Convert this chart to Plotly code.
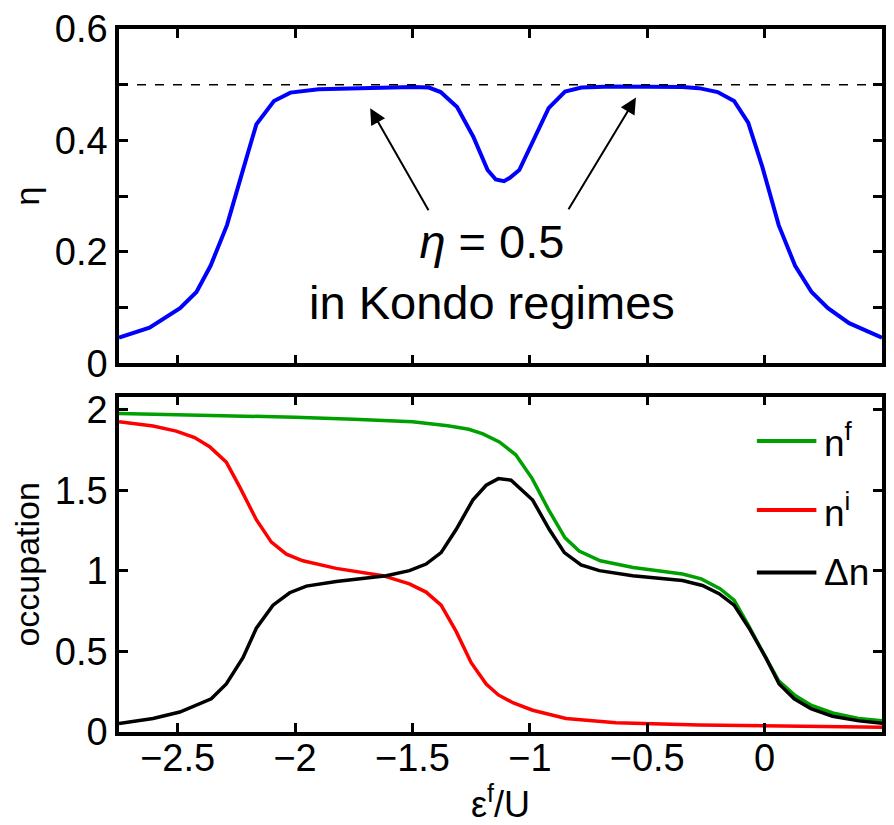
import plotly.graph_objects as go

# ---------------- data ----------------
eps_eta = [-2.75, -2.62, -2.49, -2.42, -2.36, -2.29, -2.22, -2.165, -2.09, -2.02,
           -1.90, -1.75, -1.60, -1.50, -1.43, -1.38, -1.31, -1.24, -1.18, -1.145,
           -1.11, -1.085, -1.045, -0.99, -0.92, -0.85, -0.78, -0.65, -0.50, -0.35,
           -0.28, -0.20, -0.13, -0.07, -0.01, 0.06, 0.13, 0.20, 0.27, 0.36, 0.50]
eta = [0.046, 0.064, 0.099, 0.128, 0.175, 0.248, 0.350, 0.429, 0.471, 0.486,
       0.492, 0.494, 0.496, 0.496, 0.495, 0.487, 0.460, 0.406, 0.347, 0.330,
       0.327, 0.333, 0.347, 0.395, 0.458, 0.488, 0.495, 0.497, 0.497, 0.496,
       0.494, 0.487, 0.471, 0.432, 0.353, 0.248, 0.175, 0.128, 0.099, 0.072, 0.046]
eta_ref = 0.5

eps_nf = [-2.75, -2.5, -2.25, -2.0, -1.75, -1.5, -1.35, -1.26, -1.2, -1.13, -1.06,
          -0.99, -0.92, -0.85, -0.79, -0.70, -0.56, -0.35, -0.27, -0.19, -0.13,
          -0.07, 0.005, 0.06, 0.13, 0.20, 0.29, 0.40, 0.51]
n_f = [1.976, 1.970, 1.962, 1.953, 1.940, 1.925, 1.900, 1.878, 1.850, 1.800, 1.720,
       1.572, 1.378, 1.205, 1.123, 1.062, 1.021, 0.980, 0.950, 0.889, 0.818,
       0.665, 0.461, 0.318, 0.226, 0.165, 0.118, 0.084, 0.069]

eps_ni = [-2.75, -2.605, -2.506, -2.428, -2.364, -2.293, -2.236, -2.165, -2.101, -2.037,
          -1.967, -1.825, -1.626, -1.513, -1.442, -1.378, -1.314, -1.250, -1.186, -1.134,
          -1.07, -0.988, -0.846, -0.633, -0.279, 0.148, 0.51]
n_i = [1.925, 1.898, 1.867, 1.827, 1.770, 1.674, 1.521, 1.317, 1.178, 1.103,
       1.062, 1.015, 0.970, 0.919, 0.868, 0.787, 0.624, 0.430, 0.298, 0.230,
       0.180, 0.135, 0.084, 0.057, 0.043, 0.033, 0.029]

eps_dn = [-2.75, -2.605, -2.491, -2.42, -2.357, -2.293, -2.222, -2.165, -2.094, -2.023,
          -1.952, -1.825, -1.612, -1.513, -1.442, -1.378, -1.314, -1.243, -1.186, -1.134,
          -1.08, -0.988, -0.917, -0.853, -0.782, -0.704, -0.562, -0.350, -0.265, -0.194,
          -0.130, -0.066, 0.005, 0.062, 0.126, 0.197, 0.289, 0.402, 0.51]
d_n = [0.053, 0.084, 0.124, 0.165, 0.206, 0.298, 0.461, 0.644, 0.787, 0.864,
       0.905, 0.934, 0.970, 1.001, 1.042, 1.113, 1.256, 1.439, 1.531, 1.572,
       1.562, 1.439, 1.256, 1.113, 1.036, 1.001, 0.970, 0.940, 0.909, 0.858,
       0.787, 0.644, 0.461, 0.298, 0.206, 0.145, 0.098, 0.069, 0.053]

series_names = ["n<sup>f</sup>", "n<sup>i</sup>", "\u0394n"]
series_colors = ["#00A000", "#FF0000", "#000000"]

x_ticks = [-2.5, -2.0, -1.5, -1.0, -0.5, 0.0]
x_ticklabels = ["\u22122.5", "\u22122", "\u22121.5", "\u22121", "\u22120.5", "0"]
eta_ticks = [0, 0.2, 0.4, 0.6]
eta_ticklabels = ["0", "0.2", "0.4", "0.6"]
eta_minor_step = 0.1
occ_ticks = [0, 0.5, 1, 1.5, 2]
occ_ticklabels = ["0", "0.5", "1", "1.5", "2"]

# ---------------- figure ----------------
FONT = "Liberation Sans, Arial, Helvetica, sans-serif"
fig = go.Figure()

fig.add_trace(go.Scatter(x=eps_eta, y=eta, mode="lines", showlegend=False,
                         line=dict(color="#0000FF", width=4), xaxis="x", yaxis="y"))
for xs, ys, nm, col in [(eps_nf, n_f, series_names[0], series_colors[0]),
                        (eps_ni, n_i, series_names[1], series_colors[1]),
                        (eps_dn, d_n, series_names[2], series_colors[2])]:
    fig.add_trace(go.Scatter(x=xs, y=ys, mode="lines", name=nm, showlegend=False,
                             line=dict(color=col, width=3.5), xaxis="x2", yaxis="y2"))

axis_common = dict(showline=True, linecolor="black", linewidth=3.5, mirror="ticks",
                   ticks="inside", ticklen=9, tickwidth=3, tickcolor="black",
                   showgrid=False, zeroline=False, ticklabeloverflow="allow",
                   tickfont=dict(family=FONT, size=38, color="black"))

fig.update_layout(
    width=894, height=825,
    margin=dict(l=119, r=8, t=19, b=93),
    paper_bgcolor="white", plot_bgcolor="white",
    showlegend=False,
    xaxis=dict(domain=[0, 1], anchor="y", range=[-2.75, 0.5], tickmode="array",
               tickvals=x_ticks, showticklabels=False, **axis_common),
    yaxis=dict(domain=[0.5245, 1], anchor="x", range=[0, 0.6002], tickmode="array",
               tickvals=eta_ticks, ticktext=eta_ticklabels,
               minor=dict(tick0=0, dtick=eta_minor_step, ticks="inside", ticklen=9,
                          tickwidth=3, tickcolor="black", showgrid=False),
               title=dict(text="\u03b7", font=dict(family=FONT, size=34, color="black"),
                          standoff=6),
               **axis_common),
    xaxis2=dict(domain=[0, 1], anchor="y2", range=[-2.75, 0.5], tickmode="array",
                tickvals=x_ticks, ticktext=x_ticklabels, ticklabelstandoff=-10,
                title=dict(text="\u03b5<sup>f</sup>/U",
                           font=dict(family=FONT, size=36, color="black"), standoff=0),
                **axis_common),
    yaxis2=dict(domain=[0, 0.4769], anchor="x2", range=[0, 2.08], tickmode="array",
                tickvals=occ_ticks, ticktext=occ_ticklabels,
                title=dict(text="occupation",
                           font=dict(family=FONT, size=34, color="black"), standoff=6),
                **axis_common),
)

fig.add_shape(type="line", xref="x domain", yref="y", x0=0, x1=1, y0=eta_ref, y1=eta_ref,
              line=dict(color="black", width=1.5, dash="dash"))

fig.add_annotation(x=-1.16, y=0.163, xref="x", yref="y",
                   text="<i>\u03b7</i> = 0.5<br>in Kondo regimes", showarrow=False,
                   font=dict(family=FONT, size=47, color="black"), align="center")

for tail, head in [((-1.428, 0.272), (-1.68, 0.458)), ((-0.839, 0.274), (-0.548, 0.477))]:
    fig.add_annotation(x=head[0], y=head[1], ax=tail[0], ay=tail[1],
                       xref="x", yref="y", axref="x", ayref="y",
                       showarrow=True, arrowhead=2, arrowsize=1.6, arrowwidth=2,
                       arrowcolor="black", text="")

# legend drawn inside the lower panel (upper right)
legend_y = [0.868, 0.662, 0.476]
for nm, col, ly in zip(series_names, series_colors, legend_y):
    fig.add_shape(type="line", xref="x2 domain", yref="y2 domain",
                  x0=0.836, x1=0.914, y0=ly, y1=ly, line=dict(color=col, width=4))
    fig.add_annotation(x=0.921, y=ly, xref="x2 domain", yref="y2 domain",
                       text=nm, showarrow=False, xanchor="left", yanchor="middle",
                       font=dict(family=FONT, size=37, color="black"))

fig.write_html("out.html", config={"displayModeBar": False},
               post_script="document.body.style.margin='0';document.body.style.padding='0';")
